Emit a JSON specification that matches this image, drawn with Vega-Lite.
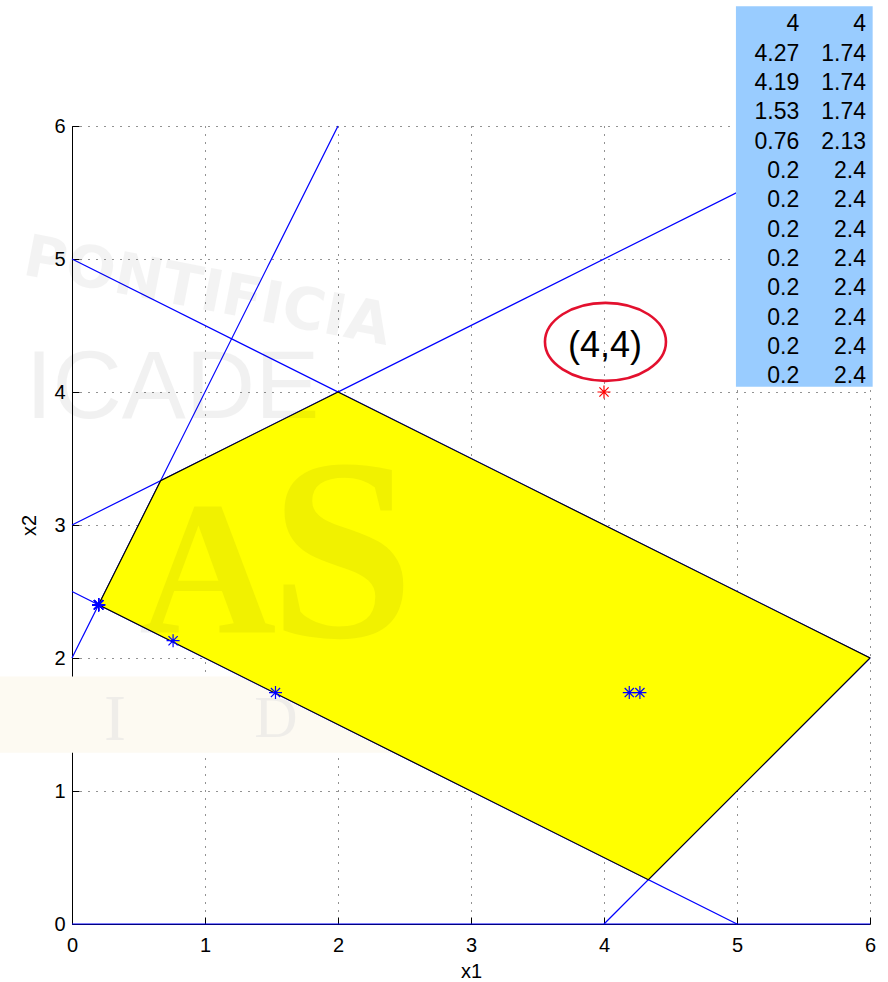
{
  "$schema": "https://vega.github.io/schema/vega-lite/v6.json",
  "width": 798,
  "height": 798,
  "autosize": {"type": "none"},
  "padding": {"left": 72, "top": 126, "right": 18, "bottom": 58},
  "background": "white",
  "datasets": {
    "iterates": [
      {"row": 0, "x1": 4, "x2": 4},
      {"row": 1, "x1": 4.27, "x2": 1.74},
      {"row": 2, "x1": 4.19, "x2": 1.74},
      {"row": 3, "x1": 1.53, "x2": 1.74},
      {"row": 4, "x1": 0.76, "x2": 2.13},
      {"row": 5, "x1": 0.2, "x2": 2.4},
      {"row": 6, "x1": 0.2, "x2": 2.4},
      {"row": 7, "x1": 0.2, "x2": 2.4},
      {"row": 8, "x1": 0.2, "x2": 2.4},
      {"row": 9, "x1": 0.2, "x2": 2.4},
      {"row": 10, "x1": 0.2, "x2": 2.4},
      {"row": 11, "x1": 0.2, "x2": 2.4},
      {"row": 12, "x1": 0.2, "x2": 2.4}
    ],
    "constraints": [
      {"line": "c1", "x1": 0, "x2": 2},
      {"line": "c1", "x1": 2, "x2": 6},
      {"line": "c2", "x1": 0, "x2": 5},
      {"line": "c2", "x1": 6, "x2": 2},
      {"line": "c3", "x1": 0, "x2": 3},
      {"line": "c3", "x1": 6, "x2": 6},
      {"line": "c4", "x1": 0, "x2": 2.5},
      {"line": "c4", "x1": 5, "x2": 0},
      {"line": "c5", "x1": 4, "x2": 0},
      {"line": "c5", "x1": 6, "x2": 2},
      {"line": "c6", "x1": 0, "x2": 0},
      {"line": "c6", "x1": 6, "x2": 0}
    ],
    "region": [
      {"k": 0, "x1": 0.2, "x2": 2.4},
      {"k": 1, "x1": 0.66667, "x2": 3.33333},
      {"k": 2, "x1": 2, "x2": 4},
      {"k": 3, "x1": 6, "x2": 2},
      {"k": 4, "x1": 4.33333, "x2": 0.33333}
    ]
  },
  "layer": [
    {
      "layer": [
        {
          "data": {"values": [{}]},
          "mark": {"type": "rect", "fill": "#fdfaf2"},
          "encoding": {
            "x": {"datum": -0.55, "type": "quantitative", "scale": {"domain": [0, 6]}, "title": "x1"},
            "x2": {"datum": 2.6},
            "y": {"datum": 1.288, "type": "quantitative", "scale": {"domain": [0, 6]}, "title": "x2"},
            "y2": {"datum": 1.86}
          }
        },
        {
          "data": {"name": "constraints"},
          "mark": {"type": "line", "color": "#0000ff", "strokeWidth": 1.2},
          "encoding": {
            "x": {"field": "x1", "type": "quantitative", "scale": {"domain": [0, 6]}, "title": "x1"},
            "y": {"field": "x2", "type": "quantitative", "scale": {"domain": [0, 6]}, "title": "x2"},
            "detail": {"field": "line", "type": "nominal"}
          }
        },
        {
          "data": {"name": "region"},
          "mark": {"type": "line", "interpolate": "linear-closed", "fill": "#ffff00", "stroke": "#000000", "strokeWidth": 1.1},
          "encoding": {
            "x": {"field": "x1", "type": "quantitative", "scale": {"domain": [0, 6]}},
            "y": {"field": "x2", "type": "quantitative", "scale": {"domain": [0, 6]}},
            "order": {"field": "k", "type": "quantitative"}
          }
        },
        {
          "data": {"values": [{}]},
          "mark": {"type": "text", "text": "PONTIFICIA", "font": "DejaVu Sans", "fontWeight": "bold", "fontSize": 58, "angle": 11, "align": "center", "baseline": "middle", "color": "#000000", "opacity": 0.045},
          "encoding": {
            "x": {"datum": 1.015, "type": "quantitative", "scale": {"domain": [0, 6]}},
            "y": {"datum": 4.745, "type": "quantitative", "scale": {"domain": [0, 6]}}
          }
        },
        {
          "data": {"values": [{}]},
          "mark": {"type": "text", "text": "ICADE", "font": "Liberation Sans", "fontSize": 96, "align": "center", "baseline": "alphabetic", "color": "#000000", "opacity": 0.05},
          "encoding": {
            "x": {"datum": 0.7556, "type": "quantitative", "scale": {"domain": [0, 6]}},
            "y": {"datum": 3.806, "type": "quantitative", "scale": {"domain": [0, 6]}}
          }
        },
        {
          "data": {"values": [{}]},
          "mark": {"type": "text", "text": "A", "font": "Liberation Serif", "fontWeight": "bold", "fontSize": 190, "align": "center", "baseline": "alphabetic", "color": "#000000", "opacity": 0.05},
          "encoding": {
            "x": {"datum": 1.019, "type": "quantitative", "scale": {"domain": [0, 6]}},
            "y": {"datum": 2.19, "type": "quantitative", "scale": {"domain": [0, 6]}}
          }
        },
        {
          "data": {"values": [{}]},
          "mark": {"type": "text", "text": "S", "font": "Liberation Serif", "fontWeight": "bold", "fontSize": 260, "align": "center", "baseline": "alphabetic", "color": "#000000", "opacity": 0.05},
          "encoding": {
            "x": {"datum": 2.03, "type": "quantitative", "scale": {"domain": [0, 6]}},
            "y": {"datum": 2.16, "type": "quantitative", "scale": {"domain": [0, 6]}}
          }
        },
        {
          "data": {"values": [{}]},
          "mark": {"type": "text", "text": "I", "font": "Liberation Serif", "fontSize": 66, "align": "center", "baseline": "alphabetic", "color": "#203070", "opacity": 0.06},
          "encoding": {
            "x": {"datum": 0.323, "type": "quantitative", "scale": {"domain": [0, 6]}},
            "y": {"datum": 1.387, "type": "quantitative", "scale": {"domain": [0, 6]}}
          }
        },
        {
          "data": {"values": [{}]},
          "mark": {"type": "text", "text": "D", "font": "Liberation Serif", "fontSize": 60, "align": "center", "baseline": "alphabetic", "color": "#203070", "opacity": 0.06},
          "encoding": {
            "x": {"datum": 1.534, "type": "quantitative", "scale": {"domain": [0, 6]}},
            "y": {"datum": 1.409, "type": "quantitative", "scale": {"domain": [0, 6]}}
          }
        },
        {
          "data": {"name": "iterates"},
          "mark": {"type": "point", "shape": "M0,-1L0,1M-1,0L1,0M-0.7071,-0.7071L0.7071,0.7071M-0.7071,0.7071L0.7071,-0.7071", "size": 169, "filled": false, "strokeWidth": 1.2, "opacity": 1},
          "encoding": {
            "x": {"field": "x1", "type": "quantitative", "scale": {"domain": [0, 6]}},
            "y": {"field": "x2", "type": "quantitative", "scale": {"domain": [0, 6]}},
            "stroke": {"condition": {"test": "datum.row === 0", "value": "#ff0000"}, "value": "#0000ff"}
          }
        },
        {
          "data": {"values": [{}]},
          "mark": {"type": "point", "shape": "M-1,0A1,0.645,0,1,1,1,0A1,0.645,0,1,1,-1,0Z", "size": 14641, "filled": false, "stroke": "#e3102e", "strokeWidth": 2.6, "opacity": 1},
          "encoding": {
            "x": {"datum": 4.011, "type": "quantitative", "scale": {"domain": [0, 6]}},
            "y": {"datum": 4.377, "type": "quantitative", "scale": {"domain": [0, 6]}}
          }
        },
        {
          "data": {"values": [{}]},
          "mark": {"type": "text", "text": "(4,4)", "font": "Liberation Sans", "fontSize": 36, "align": "center", "baseline": "middle", "color": "#000000"},
          "encoding": {
            "x": {"datum": 4.008, "type": "quantitative", "scale": {"domain": [0, 6]}},
            "y": {"datum": 4.347, "type": "quantitative", "scale": {"domain": [0, 6]}}
          }
        },
        {
          "data": {"values": [{}]},
          "mark": {"type": "rect", "fill": "#99ccff"},
          "encoding": {
            "x": {"datum": 4.992, "type": "quantitative", "scale": {"domain": [0, 6]}},
            "x2": {"datum": 6.02},
            "y": {"datum": 4.04, "type": "quantitative", "scale": {"domain": [0, 6]}},
            "y2": {"datum": 6.9}
          }
        }
      ]
    },
    {
      "data": {"name": "iterates"},
      "encoding": {
        "y": {"field": "row", "type": "quantitative", "scale": {"domain": [3.467, 30.675], "reverse": true}, "axis": null}
      },
      "layer": [
        {
          "mark": {"type": "text", "align": "right", "baseline": "middle", "font": "Liberation Sans", "fontSize": 23, "color": "#000000"},
          "encoding": {
            "x": {"datum": 5.468, "type": "quantitative", "scale": {"domain": [0, 6]}},
            "text": {"field": "x1", "type": "nominal"}
          }
        },
        {
          "mark": {"type": "text", "align": "right", "baseline": "middle", "font": "Liberation Sans", "fontSize": 23, "color": "#000000"},
          "encoding": {
            "x": {"datum": 5.97, "type": "quantitative", "scale": {"domain": [0, 6]}},
            "text": {"field": "x2", "type": "nominal"}
          }
        }
      ]
    }
  ],
  "resolve": {"scale": {"y": "independent"}},
  "config": {
    "view": {"stroke": null},
    "axis": {
      "tickCount": 6,
      "domainColor": "#000000",
      "domainWidth": 1,
      "tickColor": "#000000",
      "tickWidth": 1,
      "tickSize": -7,
      "labelFont": "Liberation Sans",
      "labelFontSize": 20,
      "labelColor": "#000000",
      "labelFlush": false,
      "labelOverlap": false,
      "titleFont": "Liberation Sans",
      "titleFontSize": 20,
      "titleFontWeight": "normal",
      "titleColor": "#000000",
      "grid": true,
      "gridColor": "#000000",
      "gridDash": [1, 7],
      "gridWidth": 1,
      "gridOpacity": 0.85
    },
    "axisX": {"labelPadding": 18, "titlePadding": 6},
    "axisY": {"labelPadding": 14, "titlePadding": 14}
  }
}
